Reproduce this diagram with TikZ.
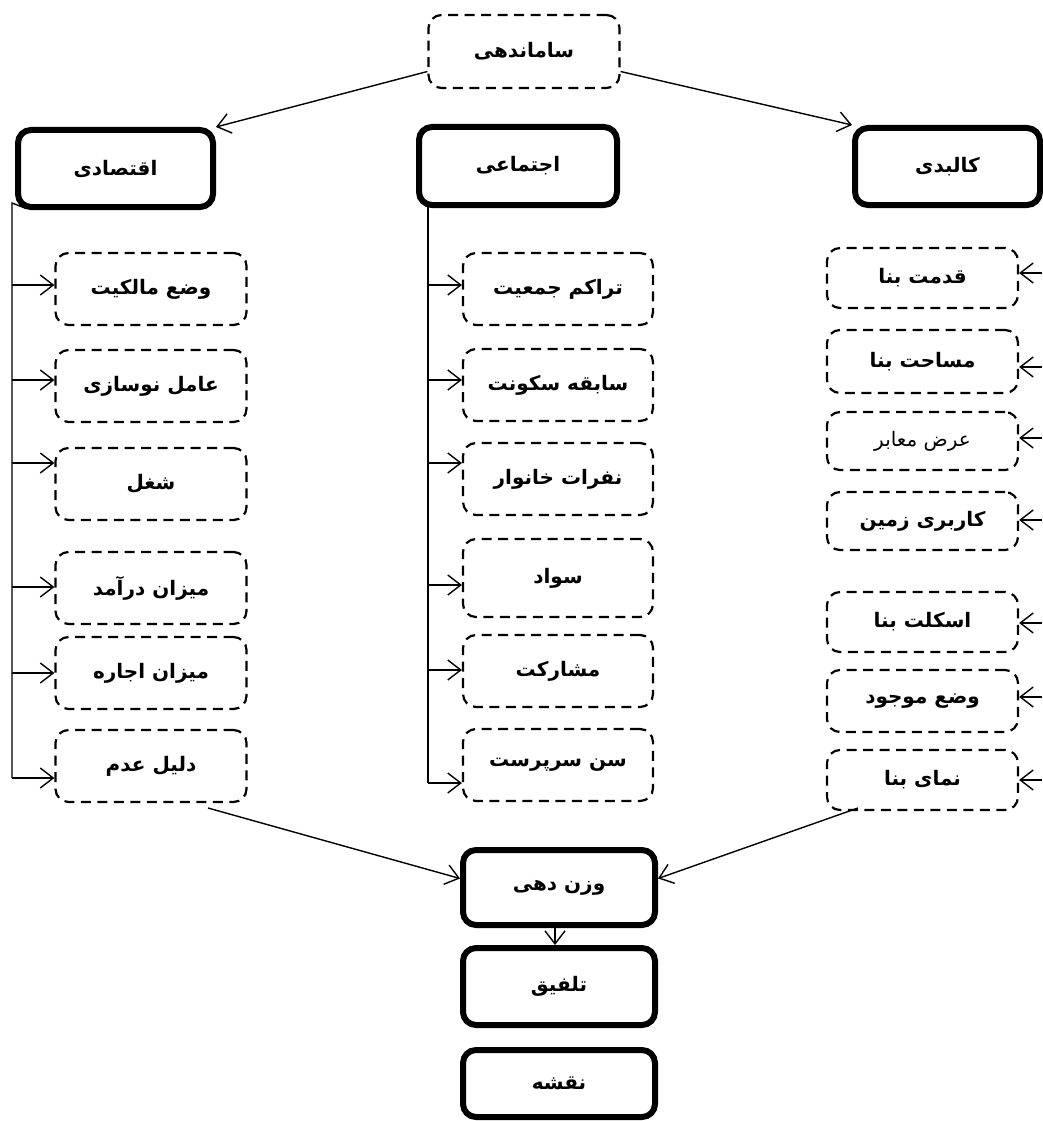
\documentclass[tikz,border=0pt]{standalone}
\usepackage{fontspec}
\usetikzlibrary{arrows.meta,calc}
\TeXXeTstate=1
\newfontfamily\arabicfont[Script=Arabic]{DejaVu Sans}
\newcommand\fab[1]{{\arabicfont\bfseries\beginR #1\endR}}
\newcommand\fan[1]{{\arabicfont\beginR #1\endR}}
\tikzset{
  thickbox/.style={draw, line width=6pt, rounded corners=13pt, minimum width=192pt, minimum height=75pt, align=center, font=\fontsize{20}{24}\selectfont},
  dashbox/.style={draw, line width=2.2pt, dash pattern=on 10pt off 6.5pt, rounded corners=13pt, minimum width=191pt, minimum height=72pt, align=center, font=\fontsize{20}{24}\selectfont},
  conn/.style={line width=1.4pt},
  arr/.style={line width=1.4pt, -{Straight Barb[length=13pt,width=20pt,line width=1.4pt]}}
}
\begin{document}
\begin{tikzpicture}[x=1pt,y=-1pt]
\useasboundingbox (0,0) rectangle (1042,1121);
% top
\node[dashbox, minimum height=73pt] (sam) at (524,51.5) {\fab{ساماندهی}};
\node[thickbox, minimum width=195pt, minimum height=77pt] (eco) at (115.5,168.5) {\fab{اقتصادی}};
\node[thickbox, minimum width=198pt, minimum height=78pt] (soc) at (518,166) {\fab{اجتماعی}};
\node[thickbox, minimum width=185pt, minimum height=77pt] (phy) at (947.5,166.5) {\fab{کالبدی}};
\draw[arr] ([yshift=-20pt]sam.west) -- (eco.north east);
\draw[arr] ([yshift=-20pt]sam.east) -- (phy.north west);
% economic column
\node[dashbox] (e1) at (151,289) {\fab{وضع مالکیت}};
\node[dashbox] (e2) at (151,386) {\fab{عامل نوسازی}};
\node[dashbox] (e3) at (151,484) {\fab{شغل}};
\node[dashbox] (e4) at (151,588) {\fab{میزان درآمد}};
\node[dashbox] (e5) at (151,673) {\fab{میزان اجاره}};
\node[dashbox] (e6) at (151,766) {\fab{دلیل عدم}};
\coordinate (etop) at (12,203);
\coordinate (ebot) at (12,778);
\draw[conn] ([xshift=10pt,yshift=2pt]eco.south west) -- (etop) -- (ebot);
\foreach \n/\yy in {e1/285, e2/380, e3/463, e4/587, e5/673, e6/778}{
  \coordinate (a\n) at (12,\yy);
  \draw[arr] (a\n) -- (\n.west |- a\n);
}
% social column
\node[dashbox, minimum width=190pt] (s1) at (558,289) {\fab{تراکم جمعیت}};
\node[dashbox, minimum width=190pt] (s2) at (558,385) {\fab{سابقه سکونت}};
\node[dashbox, minimum width=190pt] (s3) at (558,479) {\fab{نفرات خانوار}};
\node[dashbox, minimum width=190pt, minimum height=78pt] (s4) at (558,578) {\fab{سواد}};
\node[dashbox, minimum width=190pt] (s5) at (558,671) {\fab{مشارکت}};
\node[dashbox, minimum width=190pt] (s6) at (558,765) {\fab{سن سرپرست}};
\coordinate (stop) at (428,205);
\coordinate (sbot) at (428,783);
\draw[conn] (stop) -- (sbot);
\foreach \n/\yy in {s1/285, s2/380, s3/463, s4/585, s5/670, s6/783}{
  \coordinate (a\n) at (428,\yy);
  \draw[arr] (a\n) -- (\n.west |- a\n);
}
% physical column
\node[dashbox, minimum height=60pt] (p1) at (922.5,278) {\fab{قدمت بنا}};
\node[dashbox, minimum height=63pt] (p2) at (922.5,361.5) {\fab{مساحت بنا}};
\node[dashbox, minimum height=58pt] (p3) at (922.5,441) {\fan{عرض معابر}};
\node[dashbox, minimum height=58pt] (p4) at (922.5,521) {\fab{کاربری زمین}};
\node[dashbox, minimum height=60pt] (p5) at (922.5,622) {\fab{اسکلت بنا}};
\node[dashbox, minimum height=62pt] (p6) at (922.5,701) {\fab{وضع موجود}};
\node[dashbox, minimum height=60pt] (p7) at (922.5,780) {\fab{نمای بنا}};
\foreach \n/\yy in {p1/273, p2/367, p3/438, p4/520, p5/623, p6/697, p7/780}{
  \coordinate (a\n) at (1042,\yy);
  \draw[arr] (a\n) -- (\n.east |- a\n);
}
% bottom
\node[thickbox] (w) at (559,887.5) {\fab{وزن دهی}};
\node[thickbox, minimum height=77pt] (t) at (559,986.5) {\fab{تلفیق}};
\node[thickbox, minimum height=67pt] (n) at (559,1083.5) {\fab{نقشه}};
\coordinate (lc) at (208,808);
\coordinate (rc) at (858,808);
\draw[arr] (lc) -- ([yshift=9pt]w.west);
\draw[arr] (rc) -- ([yshift=9pt]w.east);
\draw[arr] ([xshift=-4pt]w.south) -- ([xshift=-4pt]t.north);
\end{tikzpicture}
\end{document}
